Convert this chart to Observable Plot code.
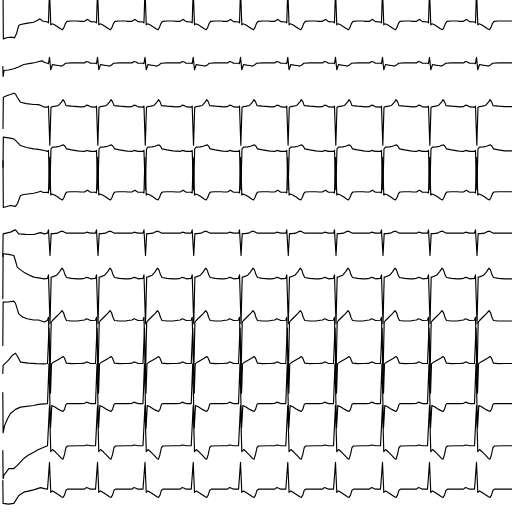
<!DOCTYPE html>
<html><head><meta charset="utf-8">
<script src="https://cdn.jsdelivr.net/npm/d3@7"></script>
<script src="https://cdn.jsdelivr.net/npm/@observablehq/plot@0.6"></script>
<style>html,body{margin:0;padding:0;background:#fff;} #chart svg{display:block;}</style>
</head><body><div id="chart"></div>
<script>
// 12-lead ECG, 10 s record; time in seconds, amplitude in mV
const leads = ["I","II","III","aVR","aVL","aVF","V1","V2","V3","V4","V5","V6"];
const rPeakTimes = [0.957, 1.895, 2.822, 3.764, 4.688, 5.611, 6.543, 7.461, 8.379, 9.297];
const recordEnd = 10;
const leadSpacing = 3; // mV between stacked leads

// one beat per lead: [time from R peak (s), mV]
const beatI   = [[-0.332,0.035],[-0.254,0.035],[-0.215,0.127],[-0.195,0.176],[-0.166,0.091],[-0.137,0.014],[-0.039,-0.014],[-0.020,-0.07],[0,2.25],[0.025,-0.21],[0.049,-0.14],[0.098,-0.21],[0.156,-0.34],[0.215,-0.49],[0.254,-0.56],[0.283,-0.39],[0.313,-0.105],[0.342,0.035],[0.430,0.056],[0.547,0.056]];
const beatII  = [[-0.332,0.11],[-0.254,0.11],[-0.215,0.21],[-0.176,0.18],[-0.137,0.09],[-0.039,0.09],[-0.020,0.06],[0,0.51],[0.025,-0.37],[0.059,0],[0.117,-0.04],[0.176,-0.07],[0.234,-0.11],[0.273,-0.04],[0.313,0.09],[0.430,0.11],[0.547,0.11]];
const beatIII = [[-0.332,0.02],[-0.254,0.04],[-0.215,0.14],[-0.176,0.11],[-0.137,0.02],[-0.039,0],[-0.020,0.07],[0.006,-2.67],[0.029,0],[0.059,0.04],[0.117,0.07],[0.176,0.12],[0.234,0.35],[0.264,0.53],[0.293,0.39],[0.322,0.11],[0.430,0.07],[0.547,0.04]];
const beatAVR = [[-0.332,-0.09],[-0.254,-0.11],[-0.215,-0.04],[-0.176,-0.07],[-0.137,-0.11],[-0.039,-0.11],[-0.020,-0.04],[0.006,-2.81],[0.029,0.07],[0.059,0.19],[0.137,0.21],[0.195,0.25],[0.244,0.32],[0.273,0.35],[0.303,0.25],[0.332,0.07],[0.430,0],[0.547,-0.07]];
const beatAVL = [[-0.332,0.035],[-0.254,0.035],[-0.215,0.127],[-0.195,0.162],[-0.166,0.084],[-0.137,0.021],[-0.039,0.021],[-0.020,-0.035],[0,2.46],[0.025,-0.176],[0.049,-0.105],[0.098,-0.176],[0.156,-0.30],[0.215,-0.457],[0.254,-0.527],[0.283,-0.352],[0.313,-0.07],[0.342,0.035],[0.430,0.056],[0.547,0.056]];
const beatAVF = [[-0.332,0.14],[-0.254,0.14],[-0.215,0.21],[-0.176,0.18],[-0.137,0.14],[-0.039,0.14],[-0.020,0.37],[0.010,-1.43],[0.033,0.11],[0.078,0.11],[0.156,0.14],[0.215,0.25],[0.254,0.28],[0.293,0.21],[0.332,0.14],[0.547,0.14]];
const beatV1  = [[-0.332,-0.07],[-0.254,-0.035],[-0.215,0.035],[-0.176,0],[-0.137,-0.07],[-0.039,-0.035],[-0.020,0.21],[0.010,-3.23],[0.033,0.05],[0.059,0.07],[0.137,0.176],[0.195,0.42],[0.244,0.68],[0.273,0.56],[0.303,0.21],[0.332,0.02],[0.430,-0.035],[0.547,-0.07]];
const beatV2  = [[-0.332,0],[-0.254,0.035],[-0.215,0.12],[-0.176,0.07],[-0.137,0],[-0.039,0.02],[-0.020,0.23],[0.010,-3.87],[0.033,-0.12],[0.059,0],[0.137,0.28],[0.195,0.49],[0.244,0.70],[0.273,0.56],[0.303,0.21],[0.332,0],[0.430,-0.035],[0.547,-0.035]];
const beatV3  = [[-0.332,-0.02],[-0.254,0],[-0.215,0.09],[-0.176,0.05],[-0.137,-0.02],[-0.039,-0.02],[-0.010,2.46],[0.020,-2.11],[0.039,-0.05],[0.078,0.07],[0.156,0.23],[0.215,0.35],[0.264,0.47],[0.293,0.35],[0.332,0],[0.430,-0.035],[0.547,-0.02]];
const beatV4  = [[-0.332,0.16],[-0.254,0.176],[-0.215,0.26],[-0.176,0.21],[-0.137,0.16],[-0.039,0.16],[-0.010,2.95],[0.020,-1.55],[0.045,0.02],[0.098,-0.07],[0.156,-0.21],[0.215,-0.32],[0.264,-0.40],[0.293,-0.25],[0.322,0.105],[0.352,0.16],[0.547,0.16]];
const beatV5  = [[-0.332,0.19],[-0.254,0.19],[-0.215,0.25],[-0.176,0.225],[-0.137,0.19],[-0.039,0.19],[0,3.02],[0.025,-0.23],[0.059,-0.07],[0.117,-0.25],[0.176,-0.46],[0.234,-0.70],[0.264,-0.75],[0.293,-0.42],[0.322,0.07],[0.352,0.176],[0.547,0.19]];
const beatV6  = [[-0.332,0.14],[-0.254,0.14],[-0.215,0.26],[-0.176,0.21],[-0.137,0.14],[-0.039,0.14],[0,2.02],[0.025,-0.09],[0.059,0.02],[0.117,-0.105],[0.176,-0.25],[0.234,-0.39],[0.264,-0.44],[0.293,-0.28],[0.322,0.07],[0.352,0.14],[0.547,0.14]];

// start-of-record transient per lead: [time (s), mV]
const startI   = [[0.049,2.53],[0.055,-1.20],[0.137,-1.10],[0.229,-1.08],[0.273,-1.13],[0.313,-0.82],[0.357,-0.26],[0.391,-0.19],[0.508,-0.105],[0.645,-0.03],[0.717,0.09],[0.771,0.21],[0.820,0.06]];
const startII  = [[0.045,-0.14],[0.051,-0.84],[0.068,-0.42],[0.156,-0.39],[0.260,-0.30],[0.352,-0.176],[0.455,0],[0.586,0.08],[0.684,0.14],[0.762,0.23],[0.820,0.25],[0.859,0.14]];
const startIII = [[0.049,-1.50],[0.055,0.70],[0.131,0.82],[0.195,0.89],[0.260,0.98],[0.293,0.93],[0.326,0.70],[0.391,0.35],[0.508,0.25],[0.650,0.19],[0.742,0.176],[0.801,0.105],[0.859,0]];
const startAVR = [[0.049,-1.22],[0.055,0.89],[0.156,0.84],[0.260,0.77],[0.326,0.54],[0.391,0.30],[0.508,0.16],[0.650,0.07],[0.742,0.035],[0.859,-0.05]];
const startAVL = [[0.049,2.25],[0.055,-1.05],[0.195,-0.91],[0.293,-0.98],[0.332,-0.77],[0.391,-0.21],[0.455,-0.14],[0.650,-0.05],[0.742,0.035],[0.781,0.09],[0.840,0]];
const startAVF = [[0.045,-1.50],[0.051,0.09],[0.195,0.21],[0.254,0.32],[0.293,0.37],[0.357,0.09],[0.488,0.056],[0.650,0.05],[0.742,0.14],[0.781,0.176],[0.859,0.09]];
const startV1  = [[0.045,-1.46],[0.051,1.69],[0.156,1.65],[0.260,1.57],[0.293,1.20],[0.326,0.75],[0.391,0.56],[0.455,0.40],[0.547,0.21],[0.650,0.05],[0.742,0],[0.859,-0.07]];
const startV2  = [[0.045,-1.76],[0.051,1.29],[0.156,1.30],[0.260,1.36],[0.293,1.20],[0.357,0.47],[0.430,0.25],[0.521,0.12],[0.645,0.035],[0.742,0.035],[0.859,-0.105]];
const startV3  = [[0.045,-0.72],[0.051,-0.16],[0.156,0.21],[0.234,0.56],[0.293,0.70],[0.332,0.49],[0.391,0.07],[0.547,0],[0.703,-0.035],[0.859,-0.05]];
const startV4  = [[0.045,0.94],[0.051,-1.90],[0.078,-1.41],[0.137,-0.91],[0.195,-0.54],[0.293,-0.25],[0.391,-0.09],[0.645,0.02],[0.742,0.105],[0.859,0.14]];
const startV5  = [[0.045,-0.14],[0.051,-2.11],[0.064,-1.90],[0.162,-1.41],[0.260,-1.41],[0.326,-1.20],[0.455,-0.70],[0.547,-0.46],[0.650,-0.26],[0.742,-0.07],[0.859,0.105]];
const startV6  = [[0.045,0.75],[0.051,-0.86],[0.156,-0.91],[0.260,-0.86],[0.313,-0.56],[0.357,-0.30],[0.455,-0.07],[0.650,0.09],[0.781,0.25],[0.859,0.176]];

const beats  = [beatI, beatII, beatIII, beatAVR, beatAVL, beatAVF, beatV1, beatV2, beatV3, beatV4, beatV5, beatV6];
const starts = [startI, startII, startIII, startAVR, startAVL, startAVF, startV1, startV2, startV3, startV4, startV5, startV6];

const rows = [];
leads.forEach((lead, i) => {
  for (const [t, v] of starts[i]) rows.push({lead, i, t, v});
  rPeakTimes.forEach((r, k) => {
    for (const [dt, v] of beats[i]) {
      if (k === 0 && dt < -0.05) continue; // first beat's P wave lies inside the start transient
      rows.push({lead, i, t: r + dt, v});
    }
  });
  const last = beats[i][beats[i].length - 1];
  rows.push({lead, i, t: recordEnd, v: last[1]});
});

const chart = Plot.plot({
  width: 512,
  height: 512,
  margin: 0,
  x: {domain: [0, recordEnd], axis: null},
  y: {domain: [-leadSpacing * 11.5, leadSpacing * 0.5], axis: null},
  marks: [
    Plot.line(rows, {
      x: "t",
      y: d => d.v - leadSpacing * d.i,
      z: "lead",
      stroke: "black",
      strokeWidth: 1.15,
      clip: true
    })
  ]
});
document.getElementById("chart").append(chart);
</script>
</body></html>
